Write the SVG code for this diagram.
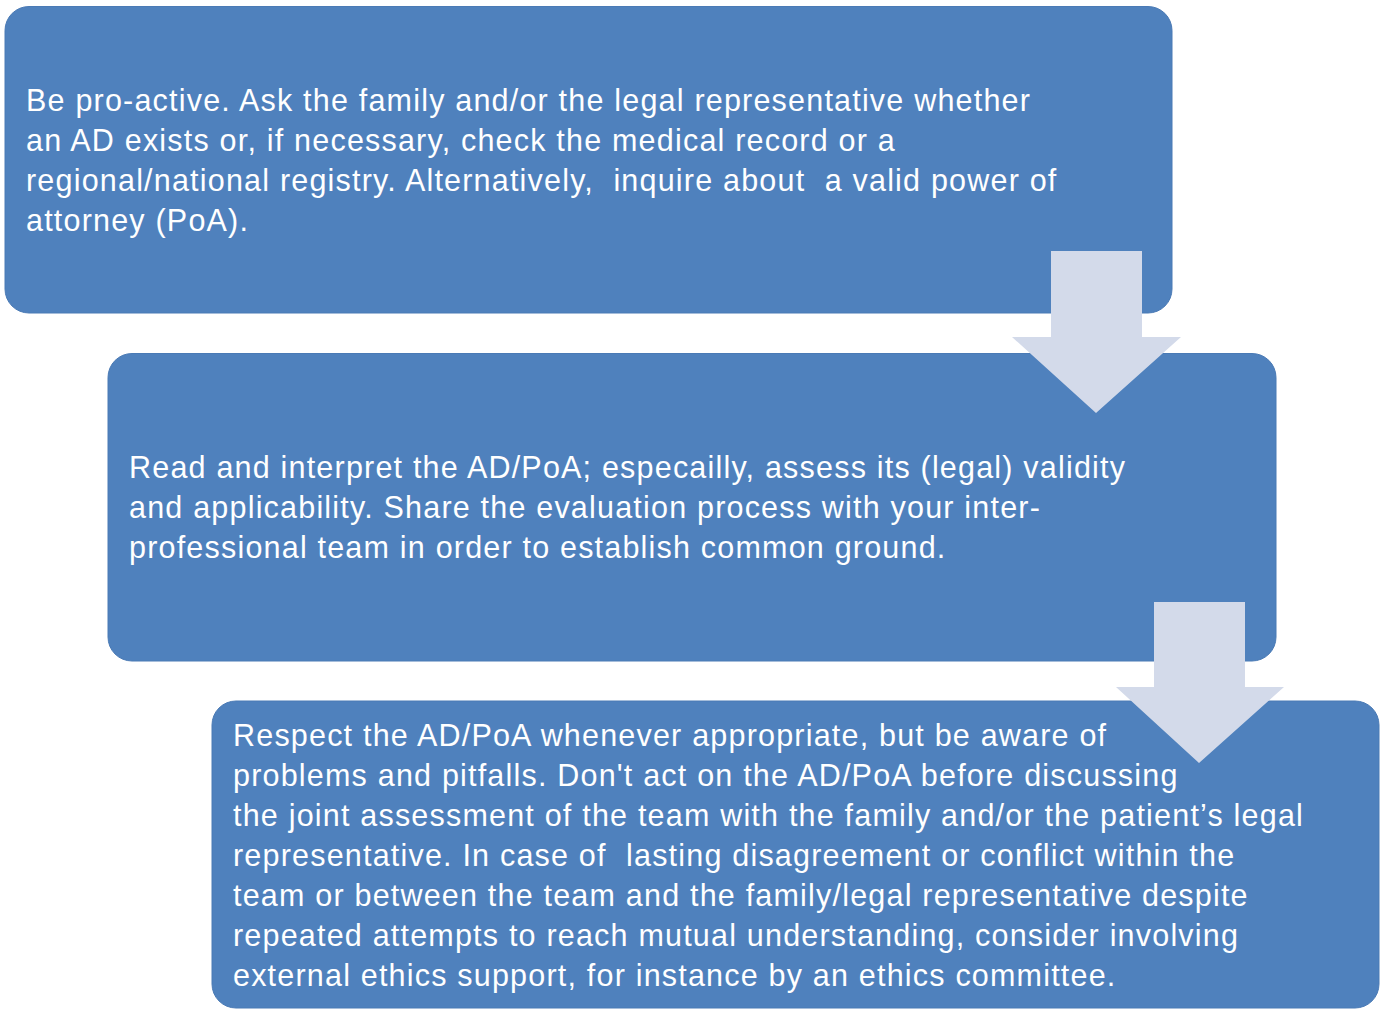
<svg xmlns="http://www.w3.org/2000/svg" width="1384" height="1013" viewBox="0 0 1384 1013">
<style>
.box{fill:#4F81BD;stroke:#4A7AB5;stroke-width:1}
.t{fill:#FFFFFF;font-family:"Liberation Sans",Arial,sans-serif;font-size:30.5px;letter-spacing:1.2px;white-space:pre}
.arr{fill:#D3DAEA}
</style>
<rect width="1384" height="1013" fill="#FFFFFF"/>
<g id="node1">
<rect class="box" x="5" y="6.5" width="1167" height="306.5" rx="24"/>
<text class="t" x="26" y="111">Be pro-active. Ask the family and/or the legal representative whether</text>
<text class="t" x="26" y="151">an AD exists or, if necessary, check the medical record or a</text>
<text class="t" x="26" y="191">regional/national registry. Alternatively,  inquire about  a valid power of</text>
<text class="t" x="26" y="231">attorney (PoA).</text>
</g>
<g id="node2">
<rect class="box" x="108" y="353.5" width="1168" height="307.5" rx="24"/>
<text class="t" x="129" y="478">Read and interpret the AD/PoA; especailly, assess its (legal) validity</text>
<text class="t" x="129" y="518">and applicability. Share the evaluation process with your inter-</text>
<text class="t" x="129" y="558">professional team in order to establish common ground.</text>
</g>
<g id="node3">
<rect class="box" x="212" y="701" width="1167" height="307" rx="24"/>
<text class="t" x="233" y="746">Respect the AD/PoA whenever appropriate, but be aware of</text>
<text class="t" x="233" y="786">problems and pitfalls. Don't act on the AD/PoA before discussing</text>
<text class="t" x="233" y="826">the joint assessment of the team with the family and/or the patient’s legal</text>
<text class="t" x="233" y="866">representative. In case of  lasting disagreement or conflict within the</text>
<text class="t" x="233" y="906">team or between the team and the family/legal representative despite</text>
<text class="t" x="233" y="946">repeated attempts to reach mutual understanding, consider involving</text>
<text class="t" x="233" y="986">external ethics support, for instance by an ethics committee.</text>
</g>
<g id="connectors">
<polygon class="arr" points="1051,251 1142,251 1142,337 1181,337 1096,413 1012,337 1051,337"/>
<polygon class="arr" points="1154,602 1245,602 1245,687 1284,687 1199,763 1116,687 1154,687"/>
</g>
</svg>
